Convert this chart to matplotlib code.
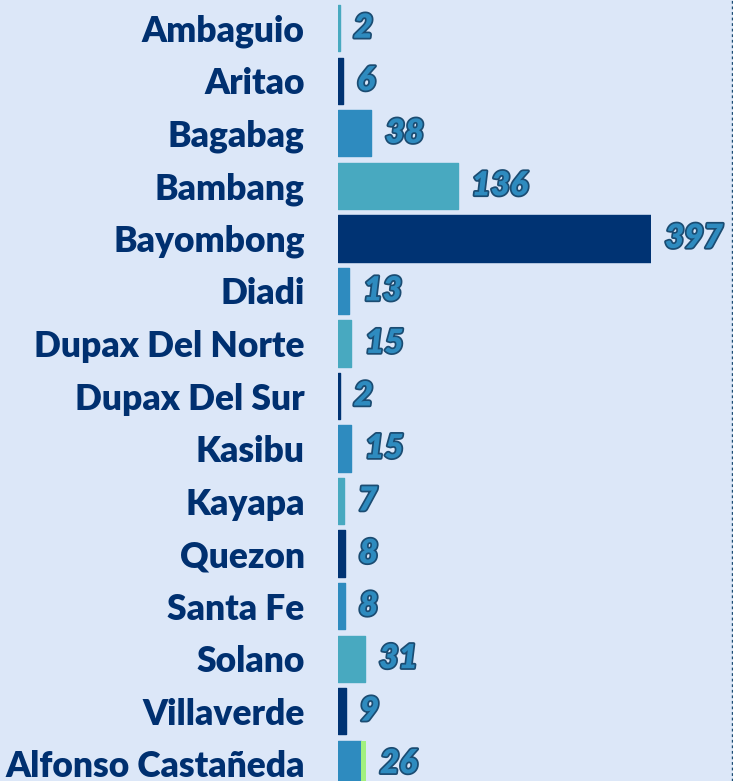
import numpy as np
import matplotlib.pyplot as plt
import matplotlib.patheffects as pe
from matplotlib.lines import Line2D

towns = ["Ambaguio", "Aritao", "Bagabag", "Bambang", "Bayombong", "Diadi",
         "Dupax Del Norte", "Dupax Del Sur", "Kasibu", "Kayapa", "Quezon",
         "Santa Fe", "Solano", "Villaverde", "Alfonso Castañeda"]
counts = [2, 6, 38, 136, 397, 13, 15, 2, 15, 7, 8, 8, 31, 9, 26]
extra = [0, 0, 0, 0, 0, 0, 0, 0, 0, 0, 0, 0, 0, 0, 6]

palette = ["#48a9c0", "#003373", "#2e8bbf"]
bg = "#dce7f8"
axis_max = 356

fig = plt.figure(figsize=(7.33, 7.81), dpi=100, facecolor=bg)
# axes: left edge at bar start, rows run off the bottom like the original
ax = fig.add_axes([338 / 733, -9 / 781, (651 - 338) / 733, 788 / 781])
ax.set_facecolor(bg)

y = np.arange(len(towns))
colors = [palette[i % 3] for i in range(len(towns))]
shown = np.minimum(counts, axis_max)
ax.barh(y, shown, height=0.88, color=colors, edgecolor=colors,
        linewidth=1, joinstyle="round")
ax.barh(y, extra, left=shown, height=0.88, color="#a2f07e", linewidth=0)

ax.set_xlim(0, axis_max)
ax.set_ylim(len(towns) - 0.5, -0.5)
ax.set_yticks(y)
ax.set_yticklabels(towns, fontsize=25.5, fontweight="heavy", family="Lato",
                   color="#003070")
ax.tick_params(axis="y", length=0, pad=24)
ax.set_xticks([])
for s in ax.spines.values():
    s.set_visible(False)

outline = [pe.withStroke(linewidth=2.5, foreground="#1b4c72")]
for yi, v, e in zip(y, counts, extra):
    ax.annotate(str(v), (min(v, axis_max) + e, yi), xytext=(10, 0),
                textcoords="offset points", va="center", ha="left",
                fontsize=24, fontweight="heavy", style="italic", family="Lato",
                color="#2e8bbf", path_effects=outline, annotation_clip=False)

fig.add_artist(Line2D([731.5 / 733] * 2, [0, 1], transform=fig.transFigure,
                      color="#1b4c72", linestyle=(0, (2, 2)), linewidth=1))

fig.savefig("out.png", dpi=100, facecolor=bg)
